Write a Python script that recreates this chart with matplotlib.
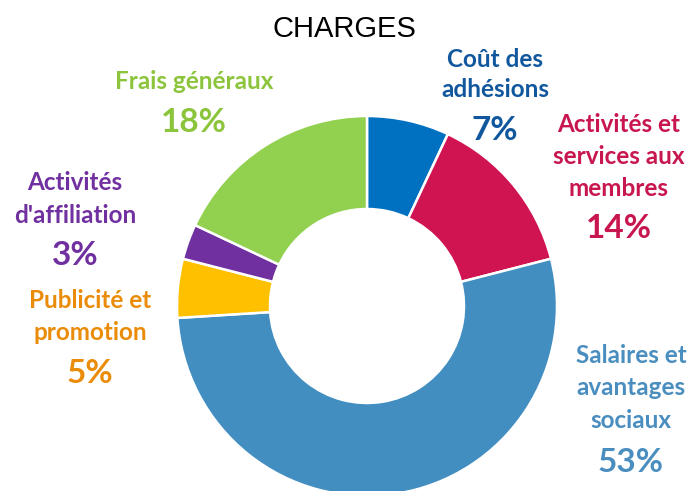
import matplotlib
matplotlib.use("Agg")
import matplotlib.pyplot as plt

# ---- data ----
title = "CHARGES"
categories = ["Coût des\nadhésions",
              "Activités et\nservices aux\nmembres",
              "Salaires et\navantages\nsociaux",
              "Publicité et\npromotion",
              "Activités\nd'affiliation",
              "Frais généraux"]
values = [7, 14, 53, 5, 3, 18]

wedge_colors = ['#0070C0', '#D01351', '#428EC0', '#FFC000', '#7030A0', '#92D050']
text_colors = ['#11579E', '#C8164F', '#4A8EC0', '#EA8C0A', '#7030A0', '#8CC43C']

W, H = 691, 491
fig = plt.figure(figsize=(W / 100, H / 100), dpi=100)

# square axes (in pixels) holding the donut, centred at pixel (367, 306) from top
cx, cy = 367, 306
R = 190          # outer radius in px
half = 1.25 * R  # axes half-size in px for radius=1 with default pie limits
pie_ax = fig.add_axes([(cx - half) / W, (H - cy - half) / H, 2 * half / W, 2 * half / H])
pie_ax.pie(values, colors=wedge_colors, startangle=90, counterclock=False,
           radius=1.0,
           wedgeprops=dict(width=1 - 97 / R, edgecolor='white', linewidth=1.8))
pie_ax.set_xlim(-1.25, 1.25)
pie_ax.set_ylim(-1.25, 1.25)
pie_ax.axis('off')

# full-figure overlay in pixel coordinates for text
ax = fig.add_axes([0, 0, 1, 1], facecolor='none')
ax.set_xlim(0, W)
ax.set_ylim(0, H)
ax.axis('off')

ax.text(344, H - 37, title, ha='center', va='baseline',
        fontsize=21, family='Liberation Sans', color='black')

# label layout: (center x, baselines of label lines, baseline of percent)
layout = [
    (495, [67, 97], 140),
    (619, [132, 164, 196], 238),
    (631, [363, 395, 428], 472),
    (90, [308, 340], 383),
    (75, [190, 223], 265),
    (194, [89], 132),
]

font = 'Lato'
for (x, bls, pbl), lab, v, c in zip(layout, categories, values, text_colors):
    for line, bl in zip(lab.split('\n'), bls):
        ax.text(x, H - bl, line, ha='center', va='baseline', fontsize=17.5,
                fontweight='bold', family=font, color=c)
    ax.text(x, H - pbl, f"{v}%", ha='center', va='baseline', fontsize=24,
            fontweight='bold', family=font, color=c)

fig.savefig("out.png", dpi=100)
